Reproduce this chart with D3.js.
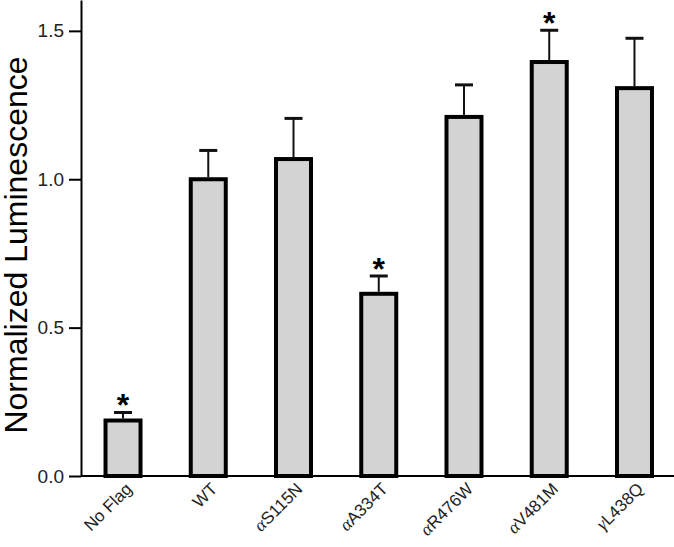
<!DOCTYPE html>
<html>
<head>
<meta charset="utf-8">
<script src="https://cdn.jsdelivr.net/npm/d3@7"></script>
<style>
  body { margin: 0; background: #fff; }
  text { font-family: Arial, "Liberation Sans", sans-serif; }
</style>
</head>
<body>
<div class="chart"></div>
<script>
// values
const categories = ["No Flag", "WT", "αS115N", "αA334T", "αR476W", "αV481M", "γL438Q"];
const means = [0.187, 1.0, 1.068, 0.614, 1.21, 1.395, 1.307];
const errors = [0.027, 0.097, 0.137, 0.06, 0.108, 0.107, 0.168];
const starred = [true, false, false, true, false, true, false];
const yTicks = [0, 0.5, 1.0, 1.5];

const width = 674;
const height = 547;
const left = 81;
const base = 476;
const barWidth = 35;

const svg = d3.select(".chart")
  .append("svg")
  .attr("width", width)
  .attr("height", height);

const x = d3.scalePoint()
  .domain(categories)
  .range([80.4, 677.1])
  .padding(0.5);

const y = d3.scaleLinear()
  .domain([0, 1.604])
  .range([base, 0]);

// bars
svg.selectAll("rect.bar")
  .data(categories)
  .enter()
  .append("rect")
  .attr("class", "bar")
  .attr("x", d => x(d) - barWidth / 2)
  .attr("y", (d, i) => y(means[i]))
  .attr("width", barWidth)
  .attr("height", (d, i) => base - y(means[i]))
  .style("fill", "#d3d3d3")
  .style("stroke", "#000")
  .style("stroke-width", 4);

// error bars (upper only)
svg.selectAll("line.err")
  .data(categories)
  .enter()
  .append("line")
  .attr("class", "err")
  .attr("x1", d => x(d))
  .attr("x2", d => x(d))
  .attr("y1", (d, i) => y(means[i]) - 2)
  .attr("y2", (d, i) => y(means[i] + errors[i]))
  .style("stroke", "#111")
  .style("stroke-width", 2);

svg.selectAll("line.cap")
  .data(categories)
  .enter()
  .append("line")
  .attr("class", "cap")
  .attr("x1", d => x(d) - 9)
  .attr("x2", d => x(d) + 9)
  .attr("y1", (d, i) => y(means[i] + errors[i]))
  .attr("y2", (d, i) => y(means[i] + errors[i]))
  .style("stroke", "#111")
  .style("stroke-width", 3);

// significance marks
svg.selectAll("text.star")
  .data(categories.filter((d, i) => starred[i]))
  .enter()
  .append("text")
  .attr("class", "star")
  .attr("x", d => x(d))
  .attr("y", d => {
    const i = categories.indexOf(d);
    return y(means[i] + errors[i]) + 4;
  })
  .attr("text-anchor", "middle")
  .style("font-size", "32px")
  .style("font-weight", "bold")
  .text("*");

// y axis
const yAxis = d3.axisLeft(y)
  .tickValues(yTicks)
  .tickFormat(d3.format(".1f"))
  .tickSize(12)
  .tickSizeOuter(0)
  .tickPadding(5);

const gy = svg.append("g")
  .attr("transform", "translate(" + left + ",0)")
  .call(yAxis);
gy.select(".domain").style("stroke-width", 2);
gy.selectAll(".tick line").style("stroke-width", 2);
gy.selectAll(".tick text")
  .style("font-size", "19px")
  .style("fill", "#222");

// x axis line
svg.append("line")
  .attr("x1", left)
  .attr("x2", width)
  .attr("y1", base)
  .attr("y2", base)
  .style("stroke", "#000")
  .style("stroke-width", 2);

// category labels, rotated
const labels = svg.selectAll("text.cat")
  .data(categories)
  .enter()
  .append("text")
  .attr("class", "cat")
  .attr("text-anchor", "end")
  .attr("transform", d => "translate(" + (x(d) + 10) + "," + (base + 14) + ") rotate(-45)")
  .style("font-size", "17px")
  .style("fill", "#222");

labels.each(function (d) {
  const t = d3.select(this);
  const first = d.charAt(0);
  if (first === "α" || first === "γ") {
    t.append("tspan")
      .style("font-family", "'Liberation Serif', serif")
      .style("font-style", "italic")
      .style("font-size", "18px")
      .text(first);
    t.append("tspan").text(d.slice(1));
  } else {
    t.text(d);
  }
});

// y title
svg.append("text")
  .attr("transform", "translate(27," + 245 + ") rotate(-90)")
  .attr("text-anchor", "middle")
  .style("font-size", "32px")
  .text("Normalized Luminescence");
</script>
</body>
</html>
